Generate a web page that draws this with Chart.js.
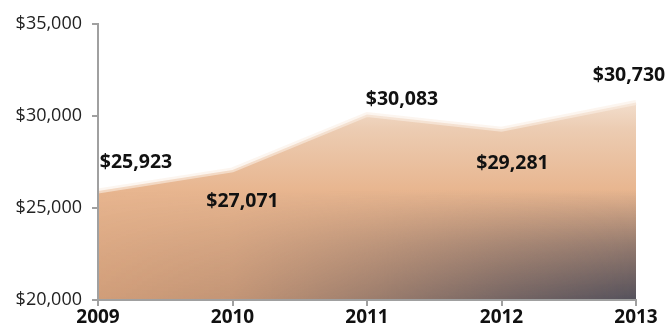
<!DOCTYPE html>
<html>
<head>
<meta charset="utf-8">
<script src="https://cdn.jsdelivr.net/npm/chart.js@4/dist/chart.umd.min.js"></script>
<style>
  html, body { margin: 0; padding: 0; background: #ffffff; }
  #wrap { width: 668px; height: 336px; position: relative; }
</style>
</head>
<body>
<div id="wrap"><canvas id="c" width="668" height="336"></canvas></div>
<script>
const categories = ['2009', '2010', '2011', '2012', '2013'];
const values = [25923, 27071, 30083, 29281, 30730];
const valueLabels = ['$25,923', '$27,071', '$30,083', '$29,281', '$30,730'];
const yTicks = [20000, 25000, 30000, 35000];

let fillCache = null;
function makeFill(chart) {
  const ca = chart.chartArea;
  if (!ca) return '#e6b48c';
  if (fillCache) return fillCache;
  const w = chart.width, h = chart.height;
  const off = document.createElement('canvas');
  off.width = w; off.height = h;
  const g = off.getContext('2d');
  // base warm vertical gradient
  const v = g.createLinearGradient(0, ca.top + 75, 0, ca.bottom);
  v.addColorStop(0, '#f3e0d0');
  v.addColorStop(0.15, '#ecccb2');
  v.addColorStop(0.45, '#e8b690');
  v.addColorStop(1, '#dba47c');
  g.fillStyle = v;
  g.fillRect(0, 0, w, h);
  // dark overlay: vertical ramp masked by horizontal ramp
  const dk = document.createElement('canvas');
  dk.width = w; dk.height = h;
  const d = dk.getContext('2d');
  const dv = d.createLinearGradient(0, ca.bottom - 110, 0, ca.bottom);
  dv.addColorStop(0, 'rgba(84,81,92,0)');
  dv.addColorStop(0.5, 'rgba(84,81,92,0.55)');
  dv.addColorStop(1, 'rgba(84,81,92,1)');
  d.fillStyle = dv;
  d.fillRect(0, 0, w, h);
  d.globalCompositeOperation = 'destination-in';
  const dh = d.createLinearGradient(ca.left, 0, ca.right, 0);
  dh.addColorStop(0, 'rgba(0,0,0,0.08)');
  dh.addColorStop(0.25, 'rgba(0,0,0,0.18)');
  dh.addColorStop(0.5, 'rgba(0,0,0,0.45)');
  dh.addColorStop(0.75, 'rgba(0,0,0,0.75)');
  dh.addColorStop(1, 'rgba(0,0,0,1)');
  d.fillStyle = dh;
  d.fillRect(0, 0, w, h);
  g.drawImage(dk, 0, 0);
  fillCache = chart.ctx.createPattern(off, 'no-repeat');
  return fillCache;
}

const labelPlugin = {
  id: 'valueLabels',
  afterDatasetsDraw(chart) {
    const ctx = chart.ctx;
    const meta = chart.getDatasetMeta(0);
    const offsets = [[38, -29], [10, 32], [35, -15], [11, 34], [-7, -27]];
    ctx.save();
    ctx.font = 'bold 19.5px "Open Sans"';
    ctx.fillStyle = '#111111';
    ctx.textAlign = 'center';
    ctx.textBaseline = 'middle';
    meta.data.forEach((pt, i) => {
      ctx.fillText(valueLabels[i], pt.x + offsets[i][0], pt.y + offsets[i][1]);
    });
    ctx.restore();
  }
};

new Chart(document.getElementById('c'), {
  type: 'line',
  data: {
    labels: categories,
    datasets: [{
      data: values,
      fill: 'start',
      borderWidth: 5,
      borderColor: 'rgba(250,238,228,0.6)',
      pointRadius: 0,
      tension: 0,
      backgroundColor: (ctx) => makeFill(ctx.chart)
    }]
  },
  options: {
    responsive: false,
    animation: false,
    layout: { padding: { left: 0, right: 32, top: 24, bottom: 0 } },
    plugins: { legend: { display: false }, tooltip: { enabled: false } },
    scales: {
      x: {
        offset: false,
        grid: { drawOnChartArea: false, drawTicks: true, tickLength: 6, color: '#a0a0a0', lineWidth: 2 },
        border: { color: '#a0a0a0', width: 2, z: 1 },
        ticks: { color: '#111111', font: { family: 'Open Sans', size: 19, weight: 'bold' }, padding: 0, maxRotation: 0 },
        afterFit(scale) { scale.height = 36; }
      },
      y: {
        min: 20000, max: 35000,
        afterBuildTicks(scale) { scale.ticks = yTicks.map(v => ({ value: v })); },
        grid: { drawOnChartArea: false, drawTicks: true, tickLength: 6, color: '#a0a0a0', lineWidth: 2 },
        border: { color: '#a0a0a0', width: 2, z: 1 },
        ticks: {
          color: '#222222',
          font: { family: 'Open Sans', size: 18 },
          padding: 10,
          callback: (v) => '$' + v.toLocaleString('en-US')
        },
        afterFit(scale) { scale.width = 98; }
      }
    }
  },
  plugins: [labelPlugin]
});
</script>
</body>
</html>
